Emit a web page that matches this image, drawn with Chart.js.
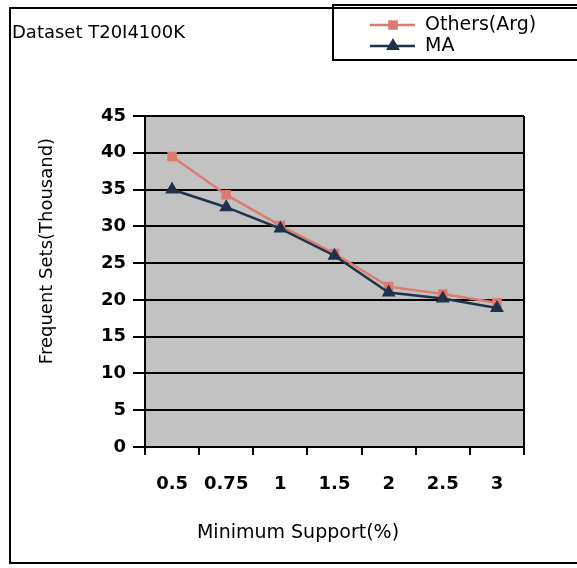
<!DOCTYPE html>
<html lang="en">
<head>
  <meta charset="UTF-8">
  <title>Dataset T20I4100K</title>
  <script src="https://cdn.jsdelivr.net/npm/chart.js"></script>
  <style>
    body {
      margin: 0;
      background: #ffffff;
    }
    .chart-box {
      position: relative;
      width: 577px;
      height: 568px;
    }
  </style>
</head>
<body>
  <div class="chart-box">
    <canvas id="fsChart" width="577" height="568"></canvas>
  </div>

  <script>
    // data
    const supportLabels = ['0.5', '0.75', '1', '1.5', '2', '2.5', '3'];
    const othersAvg = [39.5, 34.3, 30.1, 26.3, 21.8, 20.8, 19.6];
    const maValues = [35.0, 32.6, 29.7, 26.0, 21.0, 20.2, 18.9];
    const seriesNames = ['Others(Arg)', 'MA'];
    const chartTitle = 'Dataset T20I4100K';
    const xTitle = 'Minimum Support(%)';
    const yTitle = 'Frequent Sets(Thousand)';

    const tickFont = { family: 'DejaVu Sans', size: 18, weight: 'bold' };

    // grey plot area + frames, title, legend and axis titles
    const framePlugin = {
      id: 'frame',
      beforeDraw(chart) {
        const { ctx, chartArea: a } = chart;
        ctx.save();
        ctx.fillStyle = '#c2c2c2';
        ctx.fillRect(a.left, a.top, a.right - a.left, a.bottom - a.top);
        ctx.restore();
      },
      afterDraw(chart) {
        const { ctx, chartArea: a } = chart;
        ctx.save();
        ctx.strokeStyle = '#000';
        ctx.lineWidth = 2;
        // outer box
        ctx.strokeRect(10, 8, 600, 555);
        // right edge of plot
        ctx.beginPath();
        ctx.moveTo(a.right, a.top);
        ctx.lineTo(a.right, a.bottom);
        ctx.stroke();

        ctx.fillStyle = '#000';
        ctx.textBaseline = 'middle';
        ctx.textAlign = 'left';
        ctx.font = '18px "DejaVu Sans"';
        ctx.fillText(chartTitle, 12, 33);

        // legend box
        ctx.strokeRect(333, 5, 300, 55);
        ctx.font = '19px "DejaVu Sans"';
        chart.data.datasets.forEach((ds, i) => {
          const y = 25 + i * 21;
          ctx.strokeStyle = ds.borderColor;
          ctx.lineWidth = 2.5;
          ctx.beginPath();
          ctx.moveTo(370, y);
          ctx.lineTo(415, y);
          ctx.stroke();
          ctx.fillStyle = ds.pointBackgroundColor;
          ctx.strokeStyle = ds.pointBackgroundColor;
          Chart.helpers.drawPoint(ctx, {
            pointStyle: ds.pointStyle,
            radius: ds.pointRadius,
            borderWidth: 1,
            rotation: 0
          }, 393, y);
          ctx.fillStyle = '#000';
          ctx.fillText(ds.label, 425, y);
        });

        // axis titles
        ctx.textAlign = 'center';
        ctx.font = '19px "DejaVu Sans"';
        ctx.fillText(xTitle, 298, 533);

        ctx.translate(47, 251);
        ctx.rotate(-Math.PI / 2);
        ctx.font = '18px "DejaVu Sans"';
        ctx.fillText(yTitle, 0, 0);
        ctx.restore();
      }
    };

    const ctx = document.getElementById('fsChart').getContext('2d');
    const fsChart = new Chart(ctx, {
      type: 'line',
      data: {
        labels: supportLabels,
        datasets: [
          {
            label: seriesNames[0],
            data: othersAvg,
            borderColor: '#de7b70',
            backgroundColor: '#de7b70',
            pointBackgroundColor: '#de7b70',
            pointBorderColor: '#de7b70',
            pointStyle: 'rect',
            pointRadius: 5,
            borderWidth: 2.5,
            tension: 0,
            order: 1
          },
          {
            label: seriesNames[1],
            data: maValues,
            borderColor: '#1e324c',
            backgroundColor: '#1e324c',
            pointBackgroundColor: '#1e324c',
            pointBorderColor: '#1e324c',
            pointStyle: 'triangle',
            pointRadius: 5.5,
            borderWidth: 2.5,
            tension: 0,
            order: 0
          }
        ]
      },
      options: {
        responsive: false,
        animation: false,
        layout: {
          padding: { top: 116, right: 53, left: 0, bottom: 0 }
        },
        plugins: {
          legend: { display: false },
          title: { display: false },
          tooltip: { enabled: false }
        },
        scales: {
          x: {
            type: 'category',
            offset: true,
            afterFit(scale) { scale.height = 121; },
            grid: {
              offset: true,
              drawOnChartArea: false,
              color: '#000',
              lineWidth: 2,
              tickLength: 8
            },
            border: { color: '#000', width: 2 },
            ticks: {
              color: '#000',
              font: tickFont,
              padding: 19,
              maxRotation: 0,
              autoSkip: false
            }
          },
          y: {
            min: 0,
            max: 45,
            afterFit(scale) { scale.width = 145; },
            grid: {
              color: '#000',
              lineWidth: 2,
              tickLength: 12
            },
            border: { color: '#000', width: 2 },
            ticks: {
              stepSize: 5,
              color: '#000',
              font: tickFont,
              padding: 7
            }
          }
        }
      },
      plugins: [framePlugin]
    });
  </script>
</body>
</html>
